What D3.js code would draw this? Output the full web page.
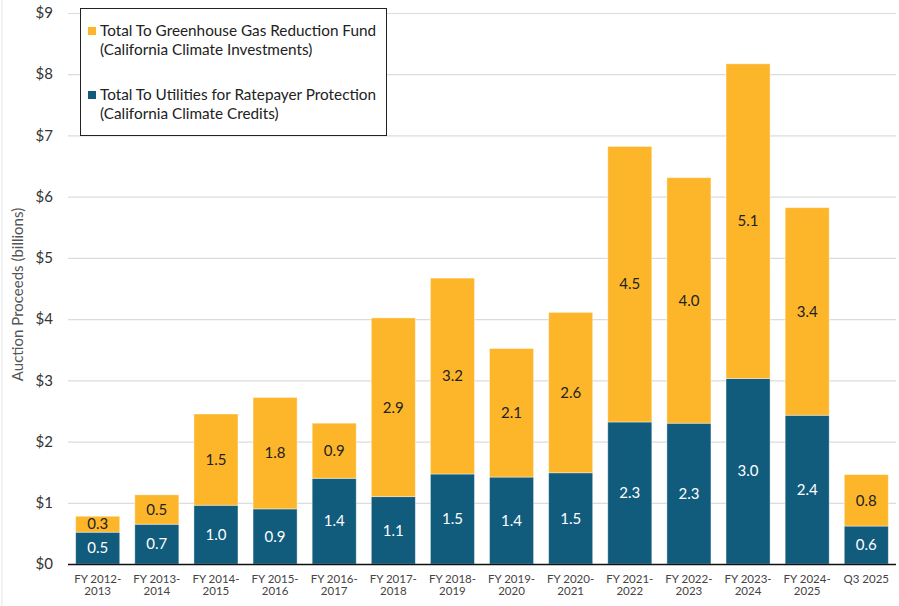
<!DOCTYPE html>
<html>
<head>
<meta charset="utf-8">
<script src="https://cdn.jsdelivr.net/npm/d3@7"></script>
<style>
  html, body { margin: 0; padding: 0; background: #fff; }
  svg { display: block; font-family: Lato, "Open Sans", sans-serif; }
</style>
</head>
<body>
<div id="chart"></div>
<script>
// ── Datos ────────────────────────────────────────────────────────────────
const periods = [
  ["FY 2012-", "2013"], ["FY 2013-", "2014"], ["FY 2014-", "2015"],
  ["FY 2015-", "2016"], ["FY 2016-", "2017"], ["FY 2017-", "2018"],
  ["FY 2018-", "2019"], ["FY 2019-", "2020"], ["FY 2020-", "2021"],
  ["FY 2021-", "2022"], ["FY 2022-", "2023"], ["FY 2023-", "2024"],
  ["FY 2024-", "2025"], ["Q3 2025"]
];
const utilities = [0.52, 0.65, 0.96, 0.90, 1.40, 1.10, 1.47, 1.42, 1.49, 2.32, 2.30, 3.03, 2.43, 0.62];
const ggrf      = [0.26, 0.48, 1.49, 1.82, 0.90, 2.92, 3.20, 2.10, 2.62, 4.50, 4.01, 5.14, 3.39, 0.84];
const yTicks = [0, 1, 2, 3, 4, 5, 6, 7, 8, 9];

const seriesNames = [
  ["Total To Greenhouse Gas Reduction Fund", "(California Climate Investments)"],
  ["Total To Utilities for Ratepayer Protection", "(California Climate Credits)"]
];

const gold = "#FDB62A";
const blue = "#115B7D";

// ── Tamaño y escalas ────────────────────────────────────────────────────
const width = 899, height = 606;
const margin = { top: 13, right: 3, bottom: 42, left: 68 };

const x = d3.scaleBand()
  .domain(d3.range(periods.length))
  .range([margin.left, width - margin.right])
  .paddingInner(0.255)
  .paddingOuter(0.13);

const y = d3.scaleLinear()
  .domain([0, 9])
  .range([height - margin.bottom, margin.top]);

const svg = d3.create("svg")
  .attr("width", width)
  .attr("height", height)
  .attr("viewBox", [0, 0, width, height]);

// marco tenue a la izquierda
svg.append("line")
  .attr("x1", 2).attr("x2", 2).attr("y1", 0).attr("y2", height)
  .attr("stroke", "#e6e6e6");

// ── Rejilla ─────────────────────────────────────────────────────────────
svg.append("g")
  .selectAll("line")
  .data(yTicks.slice(1))
  .join("line")
  .attr("x1", margin.left).attr("x2", width - margin.right)
  .attr("y1", d => y(d) + 0.5).attr("y2", d => y(d) + 0.5)
  .attr("stroke", "#dcdcdc")
  .attr("stroke-width", 1.2);

// Etiquetas eje Y
svg.append("g")
  .selectAll("text")
  .data(yTicks)
  .join("text")
  .attr("x", 53)
  .attr("y", d => y(d))
  .attr("dy", "0.35em")
  .attr("text-anchor", "end")
  .style("font-size", "15px")
  .style("fill", "#333")
  .text(d => `$${d}`);

svg.append("text")
  .attr("transform", `translate(23,${(y(0) + y(9)) / 2 + 6}) rotate(-90)`)
  .attr("text-anchor", "middle")
  .style("font-size", "15px")
  .style("fill", "#555")
  .text("Auction Proceeds (billions)");

// ── Barras ──────────────────────────────────────────────────────────────
const bars = svg.append("g");

bars.selectAll("rect.blue")
  .data(utilities)
  .join("rect")
  .attr("class", "blue")
  .attr("x", (d, i) => x(i))
  .attr("width", x.bandwidth())
  .attr("y", d => y(d))
  .attr("height", d => y(0) - y(d))
  .attr("fill", blue)
  .attr("stroke", "#ffffff")
  .attr("stroke-opacity", 0.5)
  .attr("stroke-width", 0.8);

bars.selectAll("rect.gold")
  .data(ggrf)
  .join("rect")
  .attr("class", "gold")
  .attr("x", (d, i) => x(i))
  .attr("width", x.bandwidth())
  .attr("y", (d, i) => y(utilities[i] + d))
  .attr("height", (d, i) => y(utilities[i]) - y(utilities[i] + d))
  .attr("fill", gold)
  .attr("stroke", "#ffffff")
  .attr("stroke-opacity", 0.5)
  .attr("stroke-width", 0.8);

// Valores centrados en cada segmento
const labels = svg.append("g")
  .attr("text-anchor", "middle")
  .style("font-size", "15px");

labels.selectAll("text.blue")
  .data(utilities)
  .join("text")
  .attr("x", (d, i) => x(i) + x.bandwidth() / 2)
  .attr("y", d => (y(0) + y(d)) / 2)
  .attr("dy", "0.35em")
  .style("fill", "#fff")
  .text(d => d3.format(".1f")(d));

labels.selectAll("text.gold")
  .data(ggrf)
  .join("text")
  .attr("x", (d, i) => x(i) + x.bandwidth() / 2)
  .attr("y", (d, i) => (y(utilities[i]) + y(utilities[i] + d)) / 2)
  .attr("dy", "0.35em")
  .style("fill", "#222")
  .text(d => d3.format(".1f")(d));

// ── Eje X ───────────────────────────────────────────────────────────────
svg.append("line")
  .attr("x1", margin.left).attr("x2", width - margin.right)
  .attr("y1", y(0) + 0.5).attr("y2", y(0) + 0.5)
  .attr("stroke", "#111")
  .attr("stroke-width", 1.3);

const xl = svg.append("g")
  .attr("text-anchor", "middle")
  .style("font-size", "11.5px")
  .style("fill", "#444");

xl.selectAll("text")
  .data(periods)
  .join("text")
  .attr("x", (d, i) => x(i) + x.bandwidth() / 2)
  .attr("y", y(0) + 19)
  .each(function(d) {
    const t = d3.select(this);
    d.forEach((line, k) => {
      t.append("tspan")
        .attr("x", t.attr("x"))
        .attr("dy", k === 0 ? 0 : "1.0em")
        .text(line);
    });
  });

// ── Leyenda ─────────────────────────────────────────────────────────────
const legend = svg.append("g");

legend.append("rect")
  .attr("x", 80.5).attr("y", 8.5)
  .attr("width", 306).attr("height", 127)
  .attr("fill", "#fff")
  .attr("stroke", "#222")
  .attr("stroke-width", 1);

[gold, blue].forEach((c, k) => {
  const top = 31 + k * 64;
  legend.append("rect")
    .attr("x", 88).attr("y", top - 4)
    .attr("width", 8).attr("height", 8)
    .attr("fill", c);
  legend.append("text")
    .attr("x", 100)
    .attr("y", top)
    .style("font-size", "15.3px")
    .style("fill", "#222")
    .selectAll("tspan")
    .data(seriesNames[k])
    .join("tspan")
    .attr("x", 100)
    .attr("dy", (d, j) => j === 0 ? "0.35em" : "1.2em")
    .text(d => d);
});

document.getElementById("chart").append(svg.node());
</script>
</body>
</html>
